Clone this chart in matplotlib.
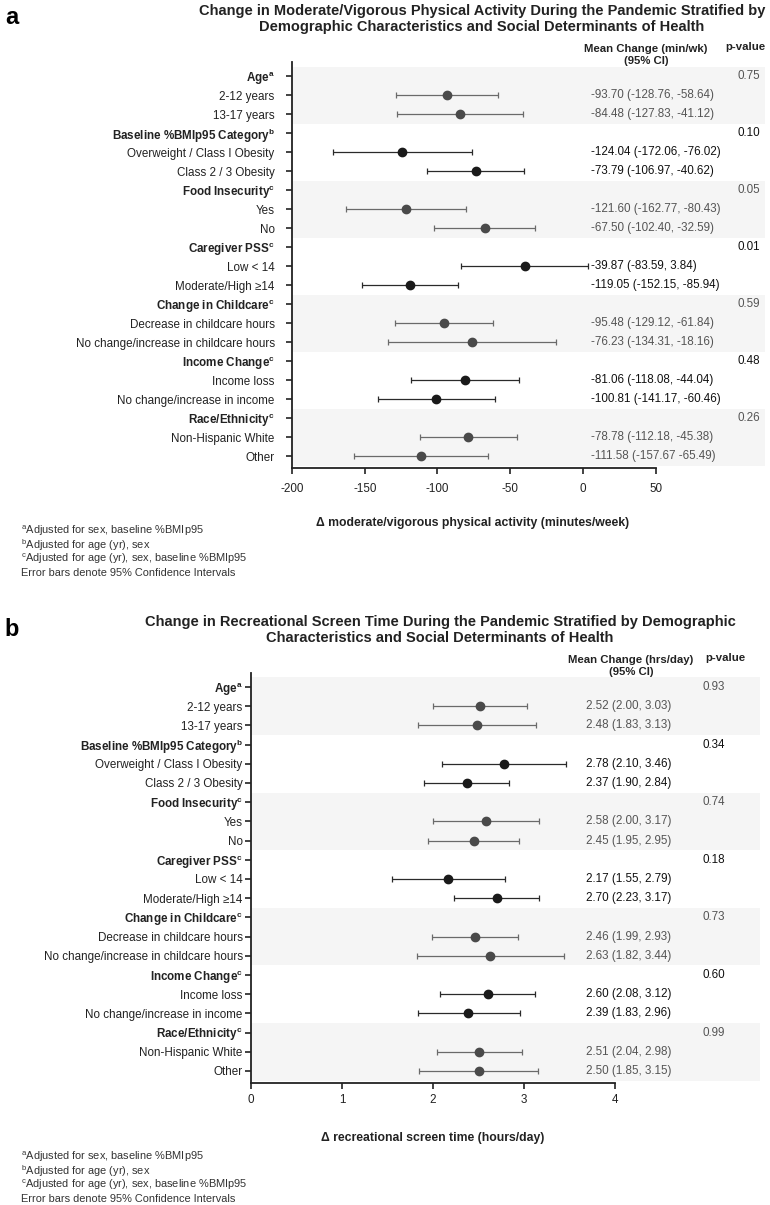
import matplotlib
matplotlib.use("Agg")
import matplotlib.pyplot as plt
import matplotlib.transforms as mtransforms
from matplotlib.patches import Rectangle

plt.rcParams['font.family'] = ['Liberation Sans', 'DejaVu Sans']
plt.rcParams['mathtext.fontset'] = 'custom'
plt.rcParams['mathtext.rm'] = 'Liberation Sans'
plt.rcParams['mathtext.bf'] = 'Liberation Sans:bold'
plt.rcParams['mathtext.it'] = 'Liberation Sans:italic'

# row labels (same for both panels); every 3rd row is a group header
row_labels = [
    r"Age$^{\mathregular{a}}$", "2-12 years", "13-17 years",
    r"Baseline %BMIp95 Category$^{\mathregular{b}}$", "Overweight / Class I Obesity", "Class 2 / 3 Obesity",
    r"Food Insecurity$^{\mathregular{c}}$", "Yes", "No",
    r"Caregiver PSS$^{\mathregular{c}}$", "Low < 14", "Moderate/High \u226514",
    r"Change in Childcare$^{\mathregular{c}}$", "Decrease in childcare hours", "No change/increase in childcare hours",
    r"Income Change$^{\mathregular{c}}$", "Income loss", "No change/increase in income",
    r"Race/Ethnicity$^{\mathregular{c}}$", "Non-Hispanic White", "Other",
]

# panel a: moderate/vigorous physical activity (min/wk)
mvpa_mean = [-93.70, -84.48, -124.04, -73.79, -121.60, -67.50, -39.87, -119.05,
             -95.48, -76.23, -81.06, -100.81, -78.78, -111.58]
mvpa_lo = [-128.76, -127.83, -172.06, -106.97, -162.77, -102.40, -83.59, -152.15,
           -129.12, -134.31, -118.08, -141.17, -112.18, -157.67]
mvpa_hi = [-58.64, -41.12, -76.02, -40.62, -80.43, -32.59, 3.84, -85.94,
           -61.84, -18.16, -44.04, -60.46, -45.38, -65.49]
mvpa_sep = [", "] * 13 + [" "]
mvpa_p = ["0.75", "0.10", "0.05", "0.01", "0.59", "0.48", "0.26"]

# panel b: recreational screen time (hrs/day)
screen_mean = [2.52, 2.48, 2.78, 2.37, 2.58, 2.45, 2.17, 2.70, 2.46, 2.63, 2.60, 2.39, 2.51, 2.50]
screen_lo = [2.00, 1.83, 2.10, 1.90, 2.00, 1.95, 1.55, 2.23, 1.99, 1.82, 2.08, 1.83, 2.04, 1.85]
screen_hi = [3.03, 3.13, 3.46, 2.84, 3.17, 2.95, 2.79, 3.17, 2.93, 3.44, 3.12, 2.96, 2.98, 3.15]
screen_sep = [", "] * 14
screen_p = ["0.93", "0.34", "0.74", "0.18", "0.73", "0.60", "0.99"]

footnotes = [
    r"$^{\mathregular{a}}$Adjusted for sex, baseline %BMIp95",
    r"$^{\mathregular{b}}$Adjusted for age (yr), sex",
    r"$^{\mathregular{c}}$Adjusted for age (yr), sex, baseline %BMIp95",
    "Error bars denote 95% Confidence Intervals",
]

FS = 8.4  # main text size
HS = 8.2  # column header size

W, H = 770, 1205
fig = plt.figure(figsize=(W / 100, H / 100), dpi=100)


def fx(x):
    return x / W


def fy(y):
    return 1 - y / H


def draw_panel(ax, means, lo, hi, sep, pvals, xlim, xticks, fmt, ypad, xpad,
               text_x, p_x, band_w):
    ax.set_xlim(*xlim)
    ax.set_ylim(20.63, -0.74)
    trans = mtransforms.blended_transform_factory(ax.transAxes, ax.transData)
    for g in range(7):
        dark = g % 2 == 1
        col = '#1a1a1a' if dark else '#4a4a4a'
        lcol = '#2a2a2a' if dark else '#6a6a6a'
        tcol = '#111111' if dark else '#555555'
        if not dark:
            ax.add_patch(Rectangle((0, 3 * g - 0.5), band_w, 3, transform=trans,
                                   facecolor='#f5f5f5', edgecolor='none',
                                   clip_on=False, zorder=0))
        ax.text(p_x, 3 * g, pvals[g], transform=trans, ha='right', va='center',
                fontsize=FS, color=tcol)
        for j in range(2):
            k = 2 * g + j
            row = 3 * g + 1 + j
            m = means[k]
            ax.errorbar(m, row, xerr=[[m - lo[k]], [hi[k] - m]], fmt='o', ms=6,
                        color=col, ecolor=lcol, elinewidth=0.9, capsize=2.3,
                        capthick=0.9, zorder=3)
            txt = (fmt % m) + " (" + (fmt % lo[k]) + sep[k] + (fmt % hi[k]) + ")"
            ax.text(text_x, row, txt, transform=trans, ha='left', va='center',
                    fontsize=FS, color=tcol)

    ax.set_yticks(range(21))
    ax.set_yticklabels(row_labels)
    for i, lab in enumerate(ax.get_yticklabels()):
        lab.set_fontsize(FS)
        if i % 3 == 0:
            lab.set_fontweight('bold')
            lab.set_color('#222222')
        else:
            lab.set_color('#333333')
    ax.set_xticks(xticks)
    ax.set_xticklabels([str(t) for t in xticks])
    ax.tick_params(axis='y', direction='out', length=4.5, width=1.2, pad=ypad, colors='#222222')
    ax.tick_params(axis='x', direction='out', length=4.5, width=1.2, pad=xpad,
                   labelsize=FS, colors='#222222')
    for s in ['top', 'right']:
        ax.spines[s].set_visible(False)
    for s in ['left', 'bottom']:
        ax.spines[s].set_linewidth(1.3)
        ax.spines[s].set_color('#222222')
    ax.set_facecolor('none')


# ---- panel a ----
ax_a = fig.add_axes([fx(292), fy(468), fx(655.6 - 292), (468 - 62) / H])
draw_panel(ax_a, mvpa_mean, mvpa_lo, mvpa_hi, mvpa_sep, mvpa_p, (-200, 50),
           [-200, -150, -100, -50, 0, 50], "%.2f", 8, 6,
           (591 - 292) / 363.6, (760 - 292) / 363.6, (765 - 292) / 363.6)

fig.text(fx(12), fy(18), "a", fontsize=17, fontweight='bold', ha='center', va='center')
fig.text(fx(482), fy(19), "Change in Moderate/Vigorous Physical Activity During the Pandemic Stratified by\n"
         "Demographic Characteristics and Social Determinants of Health",
         fontsize=10.5, fontweight='bold', ha='center', va='center',
         linespacing=1.15, color='#222222')
fig.text(fx(646), fy(55), "Mean Change (min/wk)\n(95% CI)", fontsize=HS,
         fontweight='bold', ha='center', va='center', linespacing=1.2, color='#222222')
fig.text(fx(765), fy(47), "p-value", fontsize=HS, fontweight='bold',
         ha='right', va='center', color='#222222')
fig.text(fx(473), fy(523), "\u0394 moderate/vigorous physical activity (minutes/week)",
         fontsize=8.8, fontweight='bold', ha='center', va='center', color='#222222')
for i, t in enumerate(footnotes):
    fig.text(fx(21), fy(531 + 14 * i), t, fontsize=7.9, ha='left', va='center', color='#333333')

# ---- panel b ----
ax_b = fig.add_axes([fx(251), fy(1083), fx(615 - 251), (1083 - 672.8) / H])
draw_panel(ax_b, screen_mean, screen_lo, screen_hi, screen_sep, screen_p, (0, 4),
           [0, 1, 2, 3, 4], "%.2f", 1.5, 3.5,
           (586 - 251) / 364, (725 - 251) / 364, (760 - 251) / 364)

fig.text(fx(12), fy(630), "b", fontsize=17, fontweight='bold', ha='center', va='center')
fig.text(fx(440), fy(630), "Change in Recreational Screen Time During the Pandemic Stratified by Demographic\n"
         "Characteristics and Social Determinants of Health",
         fontsize=10.5, fontweight='bold', ha='center', va='center',
         linespacing=1.15, color='#222222')
fig.text(fx(631), fy(666), "Mean Change (hrs/day)\n(95% CI)", fontsize=HS,
         fontweight='bold', ha='center', va='center', linespacing=1.2, color='#222222')
fig.text(fx(745), fy(658), "p-value", fontsize=HS, fontweight='bold',
         ha='right', va='center', color='#222222')
fig.text(fx(433), fy(1138), "\u0394 recreational screen time (hours/day)",
         fontsize=8.8, fontweight='bold', ha='center', va='center', color='#222222')
for i, t in enumerate(footnotes):
    fig.text(fx(21), fy(1157 + 14 * i), t, fontsize=7.9, ha='left', va='center', color='#333333')

fig.savefig("out.png", dpi=100)
